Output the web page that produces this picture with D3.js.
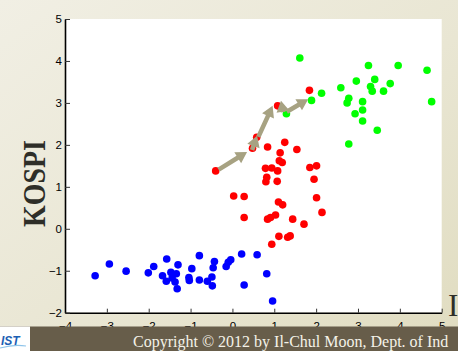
<!DOCTYPE html>
<html>
<head>
<meta charset="utf-8">
<script src="https://cdn.jsdelivr.net/npm/d3@7"></script>
<style>
  body { margin: 0; padding: 0; overflow: hidden; }
  svg { display: block; }
</style>
</head>
<body>
<svg id="chart" width="458" height="351"></svg>
<script>
// cluster points
const blueX = [-3.28, -2.94, -2.54, -2.01, -1.88, -1.57, -1.30, -1.67, -1.47, -1.58, -1.44, -1.34, -1.37, -1.32,
  -0.97, -1.04, -1.03, -0.79, -0.79, -0.60, -0.49, -0.48, -0.43, -0.46, -0.15, -0.10, -0.04, 0.22, 0.28, 0.59, 0.82, 0.96];
const blueY = [-1.12, -0.84, -1.01, -1.05, -0.90, -0.72, -0.86, -1.12, -1.04, -1.25, -1.17, -1.07, -1.27, -1.43,
  -0.95, -1.16, -1.23, -0.64, -1.22, -1.25, -1.15, -1.36, -0.78, -0.93, -0.90, -0.80, -0.74, -0.60, -1.34, -0.62, -1.07, -1.72];

const redX = [-0.40, 0.48, 0.58, 0.84, 1.08, 1.25, 1.54, 1.14, 1.12, 1.19, 0.79, 0.94, 1.08, 0.82, 0.80, 1.07,
  1.85, 2.01, 1.95, 0.03, 0.28, 1.10, 1.20, 2.01, 2.14, 0.28, 0.84, 0.91, 1.03, 1.44, 1.71, 1.11, 1.32, 1.38, 0.94, 1.84];
const redY = [1.38, 1.92, 2.18, 1.95, 2.93, 2.06, 1.89, 1.81, 1.62, 1.58, 1.44, 1.45, 1.38, 1.23, 1.12, 1.13,
  1.46, 1.50, 1.18, 0.78, 0.77, 0.64, 0.57, 0.74, 0.39, 0.27, 0.23, 0.27, 0.33, 0.23, 0.11, -0.18, -0.20, -0.17, -0.37, 3.30];

const greenX = [1.61, 1.89, 2.13, 1.29, 2.59, 2.96, 3.25, 3.96, 4.65, 4.76, 3.40, 3.30, 3.34, 3.61, 3.77,
  2.78, 2.74, 3.11, 3.11, 2.93, 3.11, 3.46, 2.78];
const greenY = [4.07, 3.06, 3.23, 2.74, 3.36, 3.52, 3.89, 3.89, 3.78, 3.03, 3.56, 3.39, 3.28, 3.28, 3.46,
  3.11, 3.00, 3.03, 2.83, 2.74, 2.57, 2.35, 2.02];

// centroid moves (from -> to)
const arrowFromX = [-0.33, 0.47, 0.62, 1.21, 1.30];
const arrowFromY = [1.41, 1.88, 2.19, 2.78, 2.79];
const arrowToX = [0.35, 0.59, 0.96, 1.16, 1.81];
const arrowToY = [1.83, 2.22, 2.93, 3.05, 3.09];

const xTicks = [-4, -3, -2, -1, 0, 1, 2, 3, 4, 5];
const yTicks = [-2, -1, 0, 1, 2, 3, 4, 5];

const svg = d3.select("#chart");
const W = 458, H = 351;

// slide background
const defs = svg.append("defs");
const grad = defs.append("linearGradient")
  .attr("id", "bg").attr("x1", "0%").attr("y1", "0%").attr("x2", "100%").attr("y2", "100%");
grad.append("stop").attr("offset", "0%").attr("stop-color", "#f1efe4");
grad.append("stop").attr("offset", "55%").attr("stop-color", "#e9e6d3");
grad.append("stop").attr("offset", "100%").attr("stop-color", "#e0dcc0");
svg.append("rect").attr("width", W).attr("height", H).attr("fill", "url(#bg)");

let xScale = d3.scaleLinear().domain([-4, 5]).range([65, 441.7]);
let yScale = d3.scaleLinear().domain([-2, 5]).range([312.7, 19]);

// white plot box
svg.append("rect")
  .attr("x", xScale(-4)).attr("y", yScale(5))
  .attr("width", xScale(5) - xScale(-4))
  .attr("height", yScale(-2) - yScale(5))
  .attr("fill", "#ffffff");

// axes
let xAxis = d3.axisBottom(xScale).tickValues(xTicks).tickFormat(d3.format("d"))
  .tickSizeInner(-4).tickSizeOuter(0).tickPadding(9);
let yAxis = d3.axisLeft(yScale).tickValues(yTicks).tickFormat(d3.format("d"))
  .tickSizeInner(-5).tickSizeOuter(0).tickPadding(3);

const gx = svg.append("g")
  .attr("transform", `translate(0, ${yScale(-2)})`)
  .call(xAxis);
const gy = svg.append("g")
  .attr("transform", `translate(${xScale(-4)}, 0)`)
  .call(yAxis);

[gx, gy].forEach(g => {
  g.select(".domain").attr("stroke", "#000").attr("stroke-width", 1.6);
  g.selectAll(".tick line").attr("stroke", "#333").attr("stroke-width", 1);
  g.selectAll(".tick text")
    .attr("fill", "#000")
    .style("font-family", "Liberation Sans, Arial, sans-serif")
    .style("font-size", "11.5px");
});

// points
function drawCluster(xs, ys, color) {
  svg.append("g")
    .selectAll("circle")
    .data(xs.map((x, i) => [x, ys[i]]))
    .enter()
    .append("circle")
    .attr("cx", d => xScale(d[0]))
    .attr("cy", d => yScale(d[1]))
    .attr("r", 3.8)
    .attr("fill", color);
}
drawCluster(blueX, blueY, "#0000ff");
drawCluster(redX, redY, "#ff0000");
drawCluster(greenX, greenY, "#00ff00");

// arrows
function arrowPath(x1, y1, x2, y2) {
  const dx = x2 - x1, dy = y2 - y1;
  const len = Math.sqrt(dx * dx + dy * dy);
  const ux = dx / len, uy = dy / len;
  const nx = -uy, ny = ux;
  const headLen = Math.min(11, len), headW = 6.5, shaftW = 2.3;
  const bx = x2 - ux * headLen, by = y2 - uy * headLen;
  const pts = [
    [x1 + nx * shaftW, y1 + ny * shaftW],
    [bx + nx * shaftW, by + ny * shaftW],
    [bx + nx * headW, by + ny * headW],
    [x2, y2],
    [bx - nx * headW, by - ny * headW],
    [bx - nx * shaftW, by - ny * shaftW],
    [x1 - nx * shaftW, y1 - ny * shaftW]
  ];
  return "M" + pts.map(p => p.join(",")).join("L") + "Z";
}
svg.append("g")
  .selectAll("path")
  .data(arrowFromX.map((x, i) => i))
  .enter()
  .append("path")
  .attr("d", i => arrowPath(xScale(arrowFromX[i]), yScale(arrowFromY[i]),
                            xScale(arrowToX[i]), yScale(arrowToY[i])))
  .attr("fill", "#a7a282");

// y label
svg.append("text")
  .attr("transform", "translate(45, 183.5) rotate(-90)")
  .attr("text-anchor", "middle")
  .attr("textLength", 87)
  .attr("lengthAdjust", "spacingAndGlyphs")
  .style("font-family", "Liberation Serif, Times New Roman, serif")
  .style("font-weight", "bold")
  .style("font-size", "31px")
  .attr("fill", "#2e2e28")
  .text("KOSPI");

// partial slide letter on the right
svg.append("text")
  .attr("x", 448).attr("y", 316)
  .style("font-family", "Liberation Serif, Times New Roman, serif")
  .style("font-size", "31px")
  .attr("fill", "#2e2e28")
  .text("I");

// footer band
svg.append("rect").attr("x", 0).attr("y", 326.5).attr("width", W).attr("height", H - 326.5).attr("fill", "#675d4a");
svg.append("rect").attr("x", 0).attr("y", 326.5).attr("width", 30).attr("height", H - 326.5).attr("fill", "#ffffff");
svg.append("text")
  .attr("x", 1).attr("y", 345)
  .style("font-family", "Liberation Sans, Arial, sans-serif")
  .style("font-weight", "bold")
  .style("font-style", "italic")
  .style("font-size", "12px")
  .attr("fill", "#1d5fb4")
  .text("IST");
svg.append("path")
  .attr("d", "M0,348 Q14,344 26,346")
  .attr("stroke", "#8fc4ea").attr("stroke-width", 1.2).attr("fill", "none");
svg.append("text")
  .attr("x", 133).attr("y", 347)
  .style("font-family", "Liberation Serif, Times New Roman, serif")
  .style("font-size", "16px")
  .attr("fill", "#f4f2e8")
  .text("Copyright \u00a9 2012 by Il-Chul Moon, Dept. of Ind");
</script>
</body>
</html>
